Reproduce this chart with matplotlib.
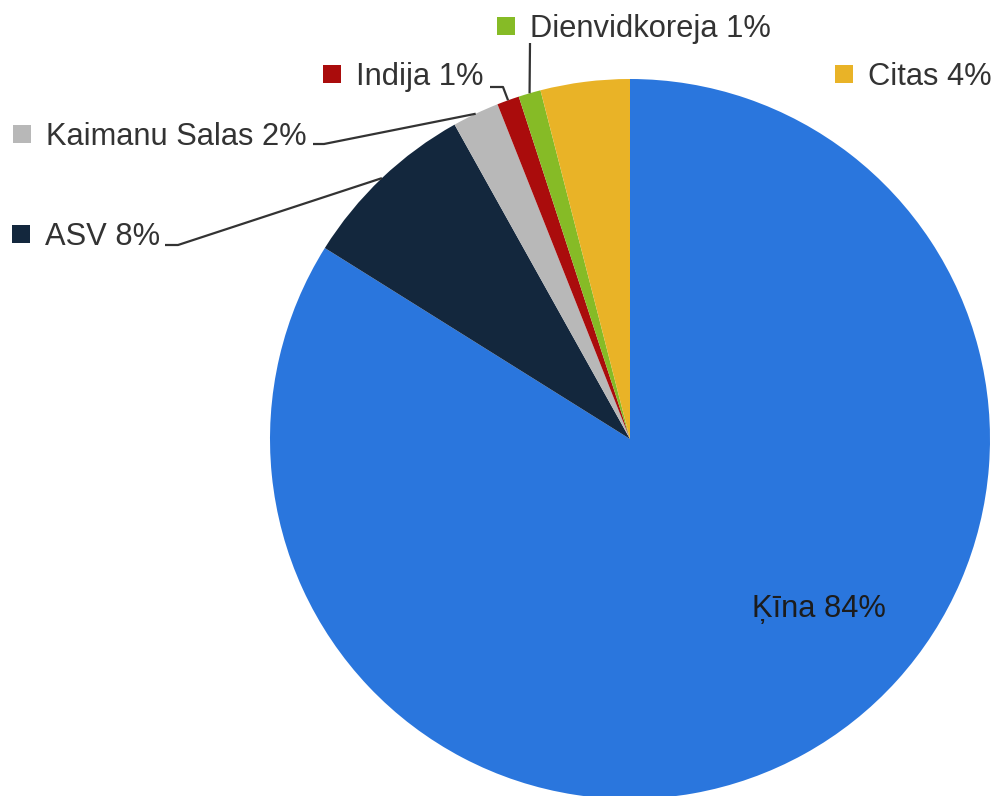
import numpy as np
import matplotlib
matplotlib.use("Agg")
from matplotlib import pyplot as plt
from matplotlib.patches import Rectangle

plt.rcParams['font.family'] = ['Liberation Sans', 'DejaVu Sans']

countries = ['Ķīna', 'ASV', 'Kaimanu Salas', 'Indija', 'Dienvidkoreja', 'Citas']
shares = [83.9, 8.0, 2.1, 1.0, 1.0, 4.0]
shown_pct = ['84%', '8%', '2%', '1%', '1%', '4%']
colors = ['#2a76dd', '#13273d', '#b8b8b8', '#aa0c0c', '#86bb26', '#e9b327']

W, H = 998, 796
fig = plt.figure(figsize=(W / 100, H / 100), dpi=100)
ax = fig.add_axes([0, 0, 1, 1])

# work in pixel-like units, y measured from the top
cx, cy, r = 630, 439, 360


def py(y):
    return H - y


wedges, _ = ax.pie(shares, colors=colors, startangle=90, counterclock=False,
                   center=(cx, py(cy)), radius=r, frame=True,
                   wedgeprops=dict(linewidth=0))

# label text start (x, baseline y) and leader-line points leading away from the wedge
label_pos = {
    'ASV': (45, 245),
    'Kaimanu Salas': (46, 145),
    'Indija': (356, 85),
    'Dienvidkoreja': (530, 37),
    'Citas': (868, 85),
}
leader = {
    'ASV': [(178, 245), (165, 245)],
    'Kaimanu Salas': [(324, 144), (313, 144)],
    'Indija': [(503, 87), (490, 87)],
    'Dienvidkoreja': [(530, 43)],
    'Citas': [],
}

for w, name, pct, col in zip(wedges, countries, shown_pct, colors):
    text = f'{name} {pct}'
    if name not in label_pos:
        ax.text(819, py(617), text, ha='center', va='baseline', fontsize=22.2,
                color='#1c1c1c')
        continue
    tx, ty = label_pos[name]
    ax.text(tx, py(ty), text, ha='left', va='baseline', fontsize=22.2,
            color='#333333')
    ax.add_patch(Rectangle((tx - 33, py(ty - 11) - 9), 18, 18, color=col, lw=0))
    if leader[name]:
        mid = np.deg2rad((w.theta1 + w.theta2) / 2)
        xs = [cx + r * np.cos(mid)] + [p[0] for p in leader[name]]
        ys = [py(cy) + r * np.sin(mid)] + [py(p[1]) for p in leader[name]]
        ax.plot(xs, ys, color='#333333', lw=1.6, solid_capstyle='butt')

ax.set_xlim(0, W)
ax.set_ylim(0, H)
ax.set_aspect('equal')
ax.axis('off')

fig.savefig('out.png', dpi=100, facecolor='white')
